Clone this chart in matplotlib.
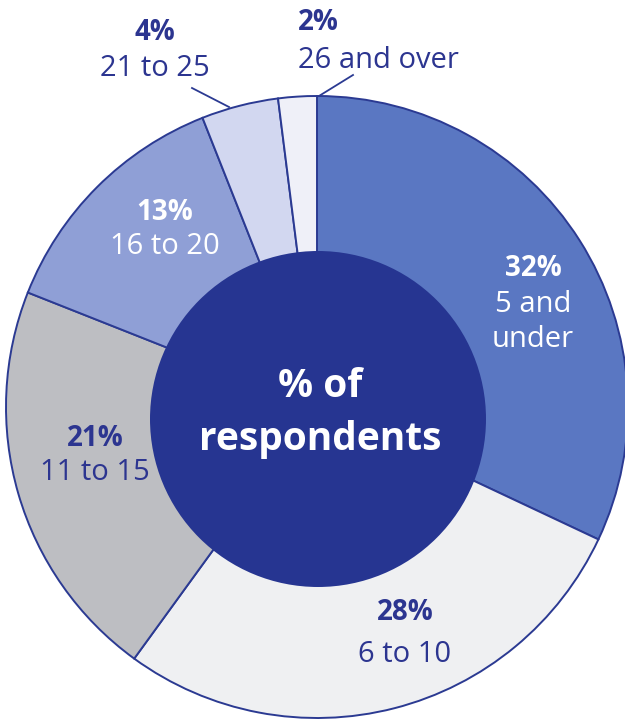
import matplotlib
matplotlib.use("Agg")
import matplotlib.pyplot as plt
from matplotlib.patches import Circle

# data
groups = ["5 and\nunder", "6 to 10", "11 to 15", "16 to 20", "21 to 25", "26 and over"]
shares = [32, 28, 21, 13, 4, 2]
centre_text = "% of\nrespondents"

# styling / layout (pixel coords, y measured from top)
colors = ["#5a77c2", "#eff0f2", "#bdbec2", "#8f9fd6", "#d2d7f0", "#eff0f8"]
text_col = ["white", "#2c3590", "#2c3590", "white", "#2c3590", "#2c3590"]
pct_pos = [(533, 268), (405, 612), (95, 438), (165, 212), (155, 33), (318, 22)]
grp_pos = [(533, 322), (405, 654), (95, 472), (165, 247), (155, 68), (378, 60)]
leaders = {4: [(192, 88), (229, 107)], 5: [(353, 75), (319, 96)]}
navy = "#263591"
edge = "#2b3a92"

W, H = 625, 721
plt.rcParams['font.family'] = ['Open Sans', 'DejaVu Sans']

fig = plt.figure(figsize=(W / 100, H / 100), dpi=100)
ax = fig.add_axes([0, 0, 1, 1])
ax.set_xlim(0, W)
ax.set_ylim(0, H)
ax.set_aspect('equal')
ax.axis('off')

def py(y):
    return H - y

ax.pie(shares, colors=colors, startangle=90, counterclock=False,
       center=(317, py(407)), radius=311,
       wedgeprops=dict(edgecolor=edge, linewidth=1.4))
ax.set_xlim(0, W)
ax.set_ylim(0, H)

ax.add_patch(Circle((318, py(419)), 168, facecolor=navy, edgecolor='none', zorder=5))

for i, (s, g) in enumerate(zip(shares, groups)):
    x, y = pct_pos[i]
    ax.text(x, py(y), f"{s}%", ha='center', va='center', fontsize=20,
            fontweight='bold', color=text_col[i], zorder=6)
    x, y = grp_pos[i]
    ax.text(x, py(y), g, ha='center', va='center', fontsize=21,
            color=text_col[i], linespacing=1.3, zorder=6)

for i, pts in leaders.items():
    ax.plot([p[0] for p in pts], [py(p[1]) for p in pts], color=edge, lw=1.3, zorder=6)

ax.text(320, py(413), centre_text, ha='center', va='center', fontsize=28,
        fontweight='bold', color='white', linespacing=1.45, zorder=6)

fig.savefig("out.png", dpi=100)
